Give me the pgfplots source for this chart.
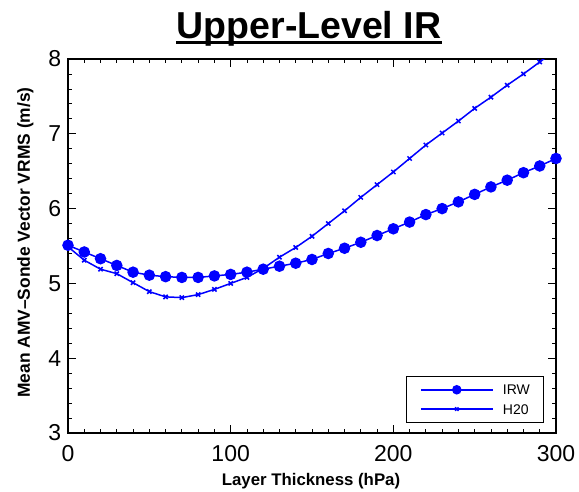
\documentclass[border=0pt]{standalone}
\usepackage{fontspec}
\setmainfont{Liberation Sans}
\usepackage{pgfplots}
\pgfplotsset{compat=1.18}
\definecolor{pblue}{RGB}{0,0,255}
\begin{document}
\begin{tikzpicture}[x=1pt,y=1pt]
\useasboundingbox (-68,-59) rectangle (511,433);
\begin{axis}[
  at={(0,0)}, anchor=south west,
  width=488pt, height=374pt, scale only axis,
  xmin=0, xmax=300, ymin=3, ymax=8,
  xtick={0,100,200,300}, ytick={3,4,5,6,7,8},
  minor x tick num=9, minor y tick num=4,
  tick align=inside, tick pos=both,
  major tick length=8pt, minor tick length=4pt,
  every tick/.style={black, line width=0.8pt},
  axis line style={black, line width=1.4pt},
  /pgf/number format/assume math mode=true,
  ticklabel style={font=\fontsize{23}{26}\selectfont},
  xticklabel style={anchor=base, inner sep=0pt, yshift=-29pt},
  yticklabel style={anchor=east, inner sep=0pt, xshift=-6.6pt},
  legend style={at={(0.9754,0.026)}, anchor=south east, draw=black, line width=1.2pt,
    font=\fontsize{14}{16}\selectfont, inner xsep=13.5pt, inner ysep=8.6pt,
    nodes={inner sep=0pt, text height=10pt, text depth=0pt},
    row sep=9.3pt, cells={anchor=west},
    /tikz/every odd column/.append style={column sep=9.4pt}},
  legend image code/.code={\draw[mark repeat=2,mark phase=2, every mark/.append style={scale=0.8}] plot coordinates {(0pt,0pt) (36pt,0pt) (72pt,0pt)};},
]
\addplot[pblue, line width=1.5pt, mark=*, mark size=5pt, mark options={solid, fill=pblue}] coordinates {
(0,5.51) (10,5.42) (20,5.33) (30,5.24) (40,5.15) (50,5.11) (60,5.09) (70,5.08) (80,5.08) (90,5.10)
(100,5.12) (110,5.15) (120,5.19) (130,5.23) (140,5.27) (150,5.32) (160,5.40) (170,5.47) (180,5.55) (190,5.64)
(200,5.73) (210,5.82) (220,5.92) (230,6.00) (240,6.09) (250,6.19) (260,6.29) (270,6.38) (280,6.48) (290,6.57) (300,6.67)
};
\addlegendentry{IRW}
\addplot[pblue, line width=1.5pt, mark=x, mark size=3pt, mark options={solid, line width=1.5pt}] coordinates {
(0,5.49) (10,5.31) (20,5.19) (30,5.13) (40,5.01) (50,4.89) (60,4.82) (70,4.81) (80,4.85) (90,4.92)
(100,5.00) (110,5.08) (120,5.20) (130,5.35) (140,5.48) (150,5.63) (160,5.80) (170,5.97) (180,6.15) (190,6.32)
(200,6.49) (210,6.67) (220,6.85) (230,7.01) (240,7.17) (250,7.34) (260,7.49) (270,7.65) (280,7.80) (290,7.96)
};
\addlegendentry{H20}
\addplot[pblue, line width=1.5pt, forget plot] coordinates {(290,7.96) (300,8.12)};
\end{axis}
\node[anchor=base, inner sep=0pt] (t) at (241,394.7) {\fontsize{37.5}{42}\selectfont\bfseries Upper-Level IR};
\draw[line width=3pt] ([yshift=-4pt]t.base west) -- ([yshift=-4pt]t.base east);
\node[anchor=base, inner sep=0pt] at (243,-53) {\fontsize{16.8}{20}\selectfont\bfseries Layer Thickness (hPa)};
\node[anchor=base, inner sep=0pt, rotate=90] at (-38,190.5) {\fontsize{17.4}{20}\selectfont\bfseries Mean AMV–Sonde Vector VRMS (m/s)};
\end{tikzpicture}
\end{document}
